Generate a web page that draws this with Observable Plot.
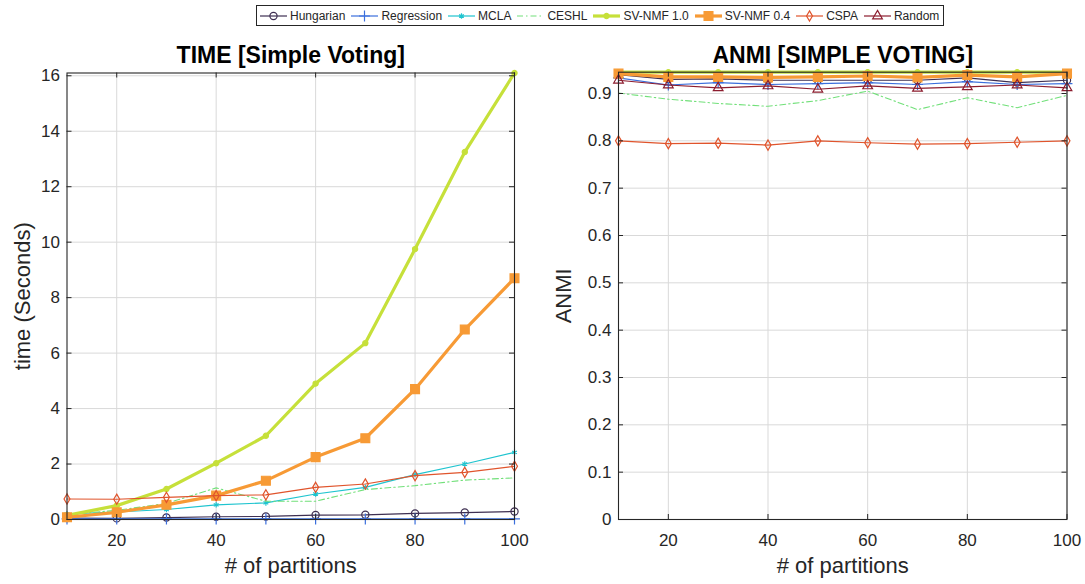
<!DOCTYPE html>
<html>
<head>
<meta charset="utf-8">
<script src="https://cdn.jsdelivr.net/npm/d3@7"></script>
<script src="https://cdn.jsdelivr.net/npm/@observablehq/plot@0.6"></script>
<style>
  body { margin: 0; background: #fff; font-family: "Liberation Sans", Arial, sans-serif; }
  #chart { position: relative; width: 1085px; height: 584px; overflow: hidden; background: #fff; }
  #legend { position: absolute; top: 5px; left: 256px; height: 21px; box-sizing: border-box;
            border: 1px solid #262626; display: flex; align-items: center; padding: 0 4px 0 2px;
            font-size: 12px; color: #262626; background: #fff; white-space: nowrap; }
  .item { display: flex; align-items: center; margin-right: 5px; }
  .item:last-child { margin-right: 0; }
  .item svg { margin-right: 2px; }
  .panel { position: absolute; top: 0; }
</style>
</head>
<body>
<div id="chart"><div id="legend"></div></div>
<script>
// Number of partitions on the x axis
const partitions = [10, 20, 30, 40, 50, 60, 70, 80, 90, 100];
const xTicks = [20, 40, 60, 80, 100];

// Ensemble methods
const methods = ["Hungarian", "Regression", "MCLA", "CESHL", "SV-NMF 1.0", "SV-NMF 0.4", "CSPA", "Random"];

// Running time (seconds)
const timeHungarian  = [0.05, 0.04, 0.07, 0.10, 0.11, 0.16, 0.17, 0.22, 0.25, 0.29];
const timeRegression = [0.02, 0.02, 0.02, 0.02, 0.02, 0.02, 0.02, 0.02, 0.02, 0.02];
const timeMCLA       = [0.20, 0.27, 0.36, 0.53, 0.60, 0.92, 1.16, 1.62, 2.00, 2.42];
const timeCESHL      = [0.18, 0.33, 0.58, 1.14, 0.66, 0.66, 1.08, 1.22, 1.42, 1.50];
const timeSVNMF10    = [0.15, 0.50, 1.10, 2.03, 3.02, 4.90, 6.36, 9.75, 13.25, 16.10];
const timeSVNMF04    = [0.08, 0.26, 0.53, 0.86, 1.40, 2.25, 2.93, 4.70, 6.85, 8.70];
const timeCSPA       = [0.74, 0.73, 0.80, 0.86, 0.89, 1.16, 1.28, 1.58, 1.70, 1.92];

// ANMI scores
const anmiHungarian  = [0.940, 0.930, 0.931, 0.928, 0.928, 0.928, 0.928, 0.933, 0.923, 0.928];
const anmiRegression = [0.933, 0.918, 0.923, 0.919, 0.921, 0.923, 0.919, 0.925, 0.919, 0.921];
const anmiCESHL      = [0.901, 0.888, 0.879, 0.873, 0.885, 0.905, 0.866, 0.891, 0.870, 0.896];
const anmiSVNMF10    = [0.945, 0.945, 0.945, 0.945, 0.945, 0.945, 0.945, 0.945, 0.945, 0.945];
const anmiSVNMF04    = [0.942, 0.935, 0.935, 0.934, 0.935, 0.937, 0.934, 0.939, 0.935, 0.942];
const anmiCSPA       = [0.800, 0.794, 0.795, 0.791, 0.800, 0.796, 0.793, 0.794, 0.797, 0.800];
const anmiRandom     = [0.928, 0.918, 0.912, 0.916, 0.909, 0.916, 0.911, 0.914, 0.918, 0.912];

const timeTicks = [0, 2, 4, 6, 8, 10, 12, 14, 16];
const anmiTicks = [0, 0.1, 0.2, 0.3, 0.4, 0.5, 0.6, 0.7, 0.8, 0.9];

// Line and marker styling for each method
const styles = {
  "Hungarian":  {stroke: "#3e2f52", width: 1.2, symbol: "circle",   r: 3.6, fill: "none"},
  "Regression": {stroke: "#3b6fdc", width: 1.2, symbol: "plus",     r: 3.6, fill: "none"},
  "MCLA":       {stroke: "#1fc4cf", width: 1.2, symbol: "asterisk", r: 2.6, fill: "none"},
  "CESHL":      {stroke: "#72e07a", width: 1.1, symbol: null,       r: 0,   fill: "none", dash: "6,3,1.5,3"},
  "SV-NMF 1.0": {stroke: "#c6e03a", width: 3.2, symbol: "circle",   r: 2.6, fill: "#c6e03a"},
  "SV-NMF 0.4": {stroke: "#f79a35", width: 3.2, symbol: "square",   r: 5,   fill: "#f79a35"},
  "CSPA":       {stroke: "#e0542c", width: 1.2, symbol: "diamond",  r: 3.1, fill: "none"},
  "Random":     {stroke: "#8c1c2e", width: 1.2, symbol: "triangle", r: 3.6, fill: "none"}
};

const toRows = (method, values) => values.map((v, i) => ({method, x: partitions[i], y: v}));

const timeSeries = [
  ["Hungarian", timeHungarian], ["Regression", timeRegression], ["MCLA", timeMCLA],
  ["CESHL", timeCESHL], ["SV-NMF 1.0", timeSVNMF10], ["SV-NMF 0.4", timeSVNMF04],
  ["CSPA", timeCSPA]
];
const anmiSeries = [
  ["Hungarian", anmiHungarian], ["Regression", anmiRegression], ["CESHL", anmiCESHL],
  ["SV-NMF 1.0", anmiSVNMF10], ["SV-NMF 0.4", anmiSVNMF04], ["CSPA", anmiCSPA],
  ["Random", anmiRandom]
];

const FONT = "Liberation Sans, Arial, sans-serif";
const INK = "#262626";

function seriesMarks(series) {
  const marks = [];
  for (const [name, values] of series) {
    const s = styles[name];
    const rows = toRows(name, values);
    marks.push(Plot.line(rows, {x: "x", y: "y", stroke: s.stroke, strokeWidth: s.width,
      strokeDasharray: s.dash, strokeLinejoin: "round"}));
    if (s.symbol) {
      marks.push(Plot.dot(rows, {x: "x", y: "y", symbol: () => s.symbol, r: s.r,
        stroke: s.stroke, fill: s.fill, strokeWidth: 1.2}));
    }
  }
  return marks;
}

function panel({series, yDomain, yTicks, yFormat, title, ylabel, width, left, marginLeft, marginRight, marginTop, ylabelDx}) {
  const height = 584, marginBottom = 65;
  const innerH = height - marginTop - marginBottom;
  const innerW = width - marginLeft - marginRight;
  const chart = Plot.plot({
    width, height, marginLeft, marginRight, marginTop, marginBottom,
    style: {fontFamily: FONT, fontSize: "17px", color: INK, background: "transparent"},
    x: {domain: [10, 100]},
    y: {domain: yDomain},
    marks: [
      Plot.gridX(xTicks, {stroke: "#d9d9d9", strokeOpacity: 1}),
      Plot.gridY(yTicks, {stroke: "#d9d9d9", strokeOpacity: 1}),
      ...seriesMarks(series),
      Plot.frame({stroke: INK, strokeWidth: 1.1}),
      // inward ticks on all four sides
      Plot.tickX(xTicks, {x: d => d, insetTop: innerH - 5, stroke: INK}),
      Plot.tickX(xTicks, {x: d => d, insetBottom: innerH - 5, stroke: INK}),
      Plot.tickY(yTicks, {y: d => d, insetRight: innerW - 5, stroke: INK}),
      Plot.tickY(yTicks, {y: d => d, insetLeft: innerW - 5, stroke: INK}),
      Plot.axisX(xTicks, {tickSize: 0, tickPadding: 14, label: null, fontSize: 17, fill: INK}),
      Plot.axisY(yTicks, {tickSize: 0, tickPadding: 7, label: null, tickFormat: yFormat, fontSize: 17, fill: INK}),
      Plot.text([title], {text: d => d, frameAnchor: "top", textAnchor: "middle", dy: -26, fontSize: 23, fontWeight: "bold", fill: "#000"}),
      Plot.text([ylabel], {text: d => d, frameAnchor: "left", textAnchor: "middle", dx: ylabelDx, rotate: -90, fontSize: 22, fill: INK}),
      Plot.text(["# of partitions"], {text: d => d, frameAnchor: "bottom", textAnchor: "middle", dy: 53, fontSize: 22, fill: INK})
    ]
  });
  chart.classList.add("panel");
  chart.style.left = left + "px";
  return chart;
}

const root = document.getElementById("chart");

root.appendChild(panel({
  series: timeSeries, yDomain: [0, 16.1], yTicks: timeTicks, yFormat: d => String(d),
  title: "TIME [Simple Voting]", ylabel: "time (Seconds)",
  width: 545, left: 0, marginLeft: 66.5, marginRight: 31, marginTop: 72.5, ylabelDx: -44.5
}));

root.appendChild(panel({
  series: anmiSeries, yDomain: [0, 0.945], yTicks: anmiTicks, yFormat: d => d === 0 ? "0" : d.toFixed(1),
  title: "ANMI [SIMPLE VOTING]", ylabel: "ANMI",
  width: 540, left: 545, marginLeft: 73, marginRight: 18.5, marginTop: 71.7, ylabelDx: -55
}));

// Legend: line sample with marker, followed by the method name
const legend = d3.select("#legend");
const symbolTypes = {
  circle: d3.symbolCircle, plus: d3.symbolPlus, asterisk: d3.symbolAsterisk,
  square: d3.symbolSquare, diamond: d3.symbolDiamond, triangle: d3.symbolTriangle
};
for (const name of methods) {
  const s = styles[name];
  const item = legend.append("div").attr("class", "item");
  const svg = item.append("svg").attr("width", 29).attr("height", 14);
  svg.append("line").attr("x1", 1).attr("x2", 28).attr("y1", 7).attr("y2", 7)
    .attr("stroke", s.stroke).attr("stroke-width", s.width).attr("stroke-dasharray", s.dash || null);
  if (s.symbol) {
    svg.append("path")
      .attr("transform", "translate(14.5,7)")
      .attr("d", d3.symbol(symbolTypes[s.symbol], Math.PI * s.r * s.r)())
      .attr("stroke", s.stroke).attr("fill", s.fill).attr("stroke-width", 1.2);
  }
  item.append("span").text(name);
}
</script>
</body>
</html>
